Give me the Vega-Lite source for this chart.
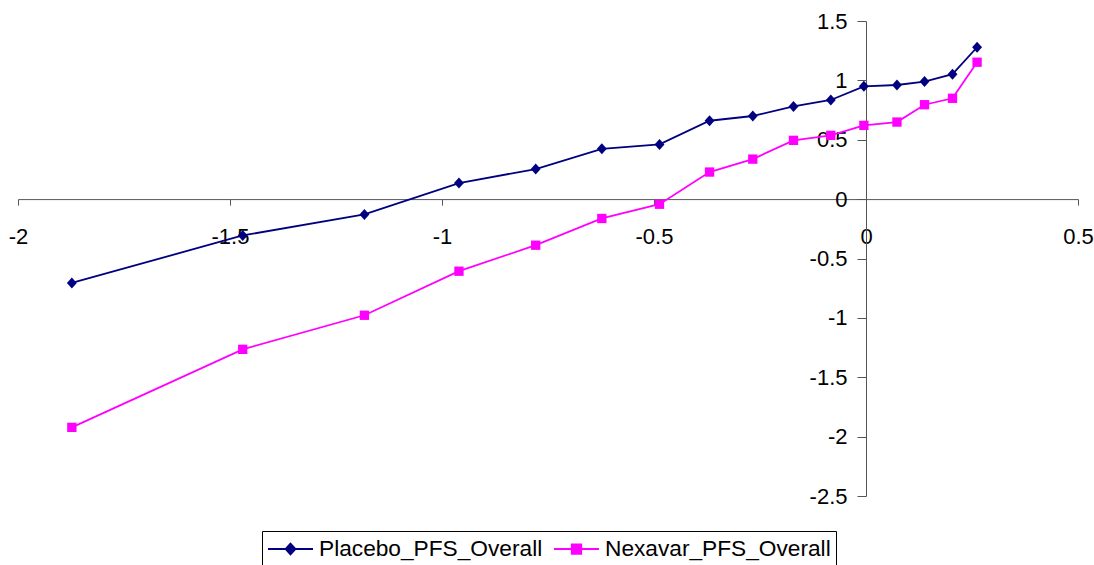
{
  "$schema": "https://vega.github.io/schema/vega-lite/v6.json",
  "autosize": "none",
  "width": 1060,
  "height": 475,
  "padding": {"left": 18, "top": 21, "right": 16, "bottom": 69},
  "background": "white",
  "config": {
    "view": {"stroke": null},
    "font": "Liberation Sans",
    "axis": {
      "grid": false,
      "title": null,
      "domainColor": "#555555",
      "domainWidth": 1,
      "tickColor": "#555555",
      "tickWidth": 1,
      "labelColor": "black",
      "labelFont": "Liberation Sans",
      "labelFontSize": 22,
      "labelExpr": "'' + datum.value"
    }
  },
  "data": {
    "values": [
      {"series": "Placebo_PFS_Overall", "x": -1.873, "y": -0.706},
      {"series": "Placebo_PFS_Overall", "x": -1.470, "y": -0.306},
      {"series": "Placebo_PFS_Overall", "x": -1.183, "y": -0.129},
      {"series": "Placebo_PFS_Overall", "x": -0.960, "y": 0.135},
      {"series": "Placebo_PFS_Overall", "x": -0.779, "y": 0.253},
      {"series": "Placebo_PFS_Overall", "x": -0.623, "y": 0.424},
      {"series": "Placebo_PFS_Overall", "x": -0.487, "y": 0.461},
      {"series": "Placebo_PFS_Overall", "x": -0.369, "y": 0.660},
      {"series": "Placebo_PFS_Overall", "x": -0.267, "y": 0.700},
      {"series": "Placebo_PFS_Overall", "x": -0.171, "y": 0.781},
      {"series": "Placebo_PFS_Overall", "x": -0.083, "y": 0.835},
      {"series": "Placebo_PFS_Overall", "x": -0.005, "y": 0.950},
      {"series": "Placebo_PFS_Overall", "x": 0.073, "y": 0.961},
      {"series": "Placebo_PFS_Overall", "x": 0.138, "y": 0.990},
      {"series": "Placebo_PFS_Overall", "x": 0.204, "y": 1.052},
      {"series": "Placebo_PFS_Overall", "x": 0.262, "y": 1.279},
      {"series": "Nexavar_PFS_Overall", "x": -1.873, "y": -1.922},
      {"series": "Nexavar_PFS_Overall", "x": -1.470, "y": -1.265},
      {"series": "Nexavar_PFS_Overall", "x": -1.183, "y": -0.978},
      {"series": "Nexavar_PFS_Overall", "x": -0.960, "y": -0.607},
      {"series": "Nexavar_PFS_Overall", "x": -0.779, "y": -0.388},
      {"series": "Nexavar_PFS_Overall", "x": -0.623, "y": -0.163},
      {"series": "Nexavar_PFS_Overall", "x": -0.487, "y": -0.043},
      {"series": "Nexavar_PFS_Overall", "x": -0.369, "y": 0.228},
      {"series": "Nexavar_PFS_Overall", "x": -0.267, "y": 0.337},
      {"series": "Nexavar_PFS_Overall", "x": -0.171, "y": 0.495},
      {"series": "Nexavar_PFS_Overall", "x": -0.083, "y": 0.537},
      {"series": "Nexavar_PFS_Overall", "x": -0.005, "y": 0.621},
      {"series": "Nexavar_PFS_Overall", "x": 0.073, "y": 0.649},
      {"series": "Nexavar_PFS_Overall", "x": 0.138, "y": 0.795},
      {"series": "Nexavar_PFS_Overall", "x": 0.204, "y": 0.849},
      {"series": "Nexavar_PFS_Overall", "x": 0.262, "y": 1.153}
    ]
  },
  "encoding": {
    "x": {
      "field": "x",
      "type": "quantitative",
      "scale": {"domain": [-2, 0.5], "nice": false, "zero": false},
      "axis": {
        "orient": "bottom",
        "offset": -296.9,
        "values": [-2, -1.5, -1, -0.5, 0, 0.5],
        "tickSize": 6,
        "labelPadding": 21,
        "labelFlush": false,
        "labelOverlap": false
      }
    },
    "y": {
      "field": "y",
      "type": "quantitative",
      "scale": {"domain": [-2.5, 1.5], "nice": false, "zero": false},
      "axis": {
        "orient": "left",
        "offset": -848,
        "values": [-2.5, -2, -1.5, -1, -0.5, 0, 0.5, 1, 1.5],
        "tickSize": 9,
        "labelPadding": 10,
        "labelFlush": false,
        "labelOverlap": false
      }
    }
  },
  "layer": [
    {
      "mark": {"type": "line", "strokeWidth": 1.8},
      "encoding": {
        "order": {"field": "x", "type": "quantitative"},
        "color": {
          "field": "series",
          "type": "nominal",
          "sort": ["Placebo_PFS_Overall", "Nexavar_PFS_Overall"],
          "scale": {
            "domain": ["Placebo_PFS_Overall", "Nexavar_PFS_Overall"],
            "range": ["#000080", "#FF00FF"]
          },
          "legend": {
            "title": null,
            "orient": "none",
            "direction": "horizontal",
            "legendX": 244,
            "legendY": 510,
            "padding": 5,
            "strokeColor": "black",
            "fillColor": "white",
            "symbolSize": 2025,
            "symbolStrokeWidth": 1.8,
            "clipHeight": 26,
            "labelFont": "Liberation Sans",
            "labelFontSize": 22.7,
            "labelColor": "black",
            "labelLimit": 400,
            "labelOffset": 5,
            "columnPadding": 10,
            "encode": {
              "symbols": {
                "update": {
                  "shape": {"signal": "datum.value === 'Placebo_PFS_Overall' ? 'M-1,0H1M0,-0.24L0.22,0L0,0.24L-0.22,0Z' : 'M-1,0H1M-0.21,-0.21H0.21V0.21H-0.21Z'"},
                  "fill": {"scale": "color", "field": "value"},
                  "stroke": {"scale": "color", "field": "value"},
                  "fillOpacity": {"value": 1},
                  "strokeWidth": {"value": 1.8}
                }
              }
            }
          }
        }
      }
    },
    {
      "transform": [{"filter": "datum.series === 'Placebo_PFS_Overall'"}],
      "mark": {
        "type": "point",
        "filled": true,
        "opacity": 1,
        "color": "#000080",
        "shape": "M0,-1L0.9,0L0,1L-0.9,0Z",
        "size": 121
      }
    },
    {
      "transform": [{"filter": "datum.series === 'Nexavar_PFS_Overall'"}],
      "mark": {
        "type": "point",
        "filled": true,
        "opacity": 1,
        "color": "#FF00FF",
        "shape": "square",
        "size": 87
      }
    }
  ]
}
